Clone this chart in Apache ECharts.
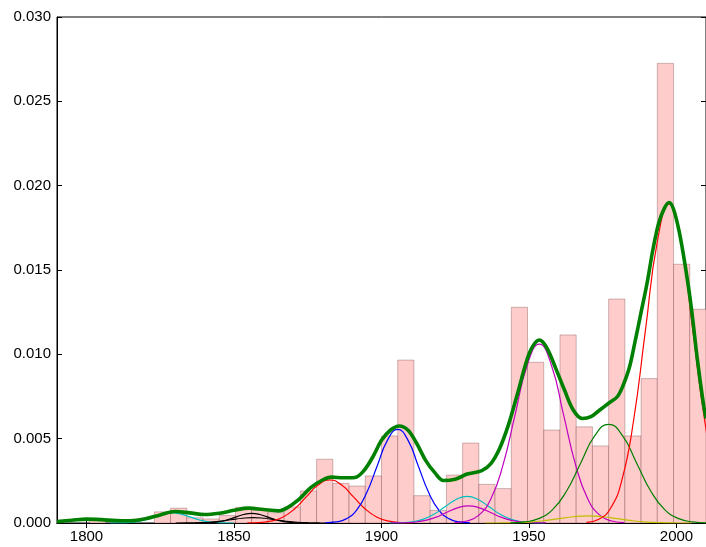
<!DOCTYPE html>
<html>
<head>
<meta charset="utf-8">
<script src="https://cdn.jsdelivr.net/npm/echarts@6/dist/echarts.min.js"></script>
<style>
html,body{margin:0;padding:0;background:#fff;}
#chart{width:706px;height:547px;}
</style>
</head>
<body>
<div id="chart"></div>
<script>
// Histogram bins (left edge, right edge) and density values
const binStarts = [1790,1795.5,1801,1806.5,1812,1817.5,1823,1828.5,1834,1839.5,1845,1850.5,1856,1861.5,1867,1872.5,1878,1883.5,1889,1894.5,1900,1905.5,1911,1916.5,1922,1927.5,1933,1938.5,1944,1949.5,1955,1960.5,1966,1971.5,1977,1982.5,1988,1993.5,1999,2004.5];
const binEnds = [1795.5,1801,1806.5,1812,1817.5,1823,1828.5,1834,1839.5,1845,1850.5,1856,1861.5,1867,1872.5,1878,1883.5,1889,1894.5,1900,1905.5,1911,1916.5,1922,1927.5,1933,1938.5,1944,1949.5,1955,1960.5,1966,1971.5,1977,1982.5,1988,1993.5,1999,2004.5,2010];
const density = [0,0,0.00017,0,0,0,0.00066,0.00088,0.00031,0.00024,0.00045,0.00093,0.00077,0.00061,0.00095,0.0019,0.00378,0.00235,0.00219,0.00279,0.00516,0.00966,0.00162,0.00075,0.00284,0.00474,0.00229,0.00204,0.01279,0.00953,0.00551,0.01115,0.0057,0.00457,0.01328,0.00516,0.00856,0.02725,0.01534,0.01267];

// Mixture components [year, density]
const compBlack1 = [[1836.75,0.0000013],[1839.5,0.0000063],[1842.25,0.000025],[1845,0.000077],[1847.75,0.000185],[1850.5,0.000346],[1853.25,0.000503],[1856,0.00057],[1858.75,0.000503],[1861.5,0.000346],[1864.25,0.000185],[1867,0.000077],[1869.75,0.000025],[1872.5,0.0000063],[1875.25,0.0000013]];
const compBlack2 = [[1830.25,0.0000007],[1834,0.0000036],[1837.75,0.000014],[1841.5,0.000043],[1845.25,0.000104],[1849,0.000194],[1852.75,0.000282],[1856.5,0.00032],[1860.25,0.000282],[1864,0.000194],[1867.75,0.000104],[1871.5,0.000043],[1875.25,0.000014],[1879,0.0000036],[1882.75,0.0000007]];
const compCyan1 = [[1808,0.0000013],[1811,0.0000067],[1814,0.000026],[1817,0.000081],[1820,0.000195],[1823,0.000364],[1826,0.00053],[1829,0.0006],[1832,0.00053],[1835,0.000364],[1838,0.000195],[1841,0.000081],[1844,0.000026],[1847,0.0000067],[1850,0.0000013]];
const compRed1 = [[1854.5,0.0000056],[1858.5,0.000028],[1862.5,0.000112],[1866.5,0.000345],[1870.5,0.000828],[1874.5,0.001547],[1878.5,0.00225],[1882.5,0.00255],[1886.5,0.00225],[1890.5,0.001547],[1894.5,0.000828],[1898.5,0.000345],[1902.5,0.000112],[1906.5,0.000028],[1910.5,0.0000056]];
const compBlue = [[1881,0.0000122],[1884.5,0.0000616],[1888,0.000244],[1891.5,0.000751],[1895,0.001802],[1898.5,0.003366],[1902,0.004898],[1905.5,0.00555],[1909,0.004898],[1912.5,0.003366],[1916,0.001802],[1919.5,0.000751],[1923,0.000244],[1926.5,0.0000616],[1930,0.0000122]];
const compCyan2 = [[1902.75,0.0000035],[1906.5,0.0000175],[1910.25,0.0000694],[1914,0.000214],[1917.75,0.000513],[1921.5,0.000958],[1925.25,0.001394],[1929,0.00158],[1932.75,0.001394],[1936.5,0.000958],[1940.25,0.000513],[1944,0.000214],[1947.75,0.0000694],[1951.5,0.0000175],[1955.25,0.0000035]];
const compMagenta1 = [[1903.25,0.0000022],[1907,0.0000113],[1910.75,0.0000448],[1914.5,0.000138],[1918.25,0.000331],[1922,0.000619],[1925.75,0.0009],[1929.5,0.00102],[1933.25,0.0009],[1937,0.000619],[1940.75,0.000331],[1944.5,0.000138],[1948.25,0.0000448],[1952,0.0000113],[1955.75,0.0000022]];
const compMagenta2 = [[1924.8,0.0000233],[1928.9,0.000118],[1933,0.000465],[1937.1,0.001434],[1941.2,0.003442],[1945.3,0.006429],[1949.4,0.009355],[1953.5,0.0106],[1957.6,0.009355],[1961.7,0.006429],[1965.8,0.003442],[1969.9,0.001434],[1974,0.000465],[1978.1,0.000118],[1982.2,0.0000233]];
const compYellow = [[1935,0.0000009],[1940,0.0000047],[1945,0.0000184],[1950,0.0000568],[1955,0.000136],[1960,0.000255],[1965,0.000371],[1970,0.00042],[1975,0.000371],[1980,0.000255],[1985,0.000136],[1990,0.0000568],[1995,0.0000184],[2000,0.0000047],[2005,0.0000009]];
const compGreen = [[1943.75,0.0000129],[1948.5,0.0000649],[1953.25,0.000257],[1958,0.000792],[1962.75,0.0019],[1967.5,0.003548],[1972.25,0.005163],[1977,0.00585],[1981.75,0.005163],[1986.5,0.003548],[1991.25,0.0019],[1996,0.000792],[2000.75,0.000257],[2005.5,0.0000649],[2010.25,0.0000129]];
const compRed2 = [[1969.5,0.0000416],[1973.5,0.00021],[1977.5,0.00083],[1981.5,0.002557],[1985.5,0.006137],[1989.5,0.011463],[1993.5,0.016679],[1997.5,0.0189],[2001.5,0.016679],[2005.5,0.011463],[2009.5,0.006137],[2013.5,0.002557],[2017.5,0.00083]];

// Total mixture density (thick green)
const totalYears = [1790,1795,1800,1805,1810,1815,1820,1825,1830,1835,1840,1845,1850,1855,1860,1865,1868,1872,1876,1880,1883,1887,1891,1894,1897,1900,1903,1906,1909,1912,1915,1918,1921,1925,1929,1934,1937,1940,1943,1946,1949,1951,1953.5,1956,1959,1962,1965,1968,1971,1974,1977,1980,1982,1984,1986,1988,1990,1992,1994,1996,1997.5,1999,2001,2003,2005,2007,2009,2010];
const totalValues = [0.00008,0.00016,0.00023,0.0002,0.00014,0.00013,0.00025,0.00048,0.00068,0.0006,0.0005,0.00058,0.00075,0.00088,0.0008,0.00072,0.0009,0.0014,0.0021,0.00255,0.00272,0.00268,0.0027,0.0031,0.0039,0.0049,0.0055,0.00575,0.0055,0.0047,0.0037,0.003,0.00252,0.0026,0.0029,0.0031,0.0035,0.0044,0.0058,0.0076,0.0095,0.0104,0.01085,0.0104,0.0092,0.0079,0.0067,0.0062,0.0063,0.0067,0.0071,0.0075,0.0082,0.0092,0.0108,0.0125,0.0142,0.0162,0.0178,0.0187,0.019,0.0186,0.0172,0.0152,0.0128,0.0098,0.0072,0.0062];

const xTicks = [1800,1850,1900,1950,2000];

const barData = [];
for (let i = 0; i < density.length; i++) {
  if (density[i] > 0) barData.push([binStarts[i], binEnds[i], density[i]]);
}
const totalData = totalYears.map((y, i) => [y, totalValues[i]]);

const FONT = 'Liberation Sans, Arial, sans-serif';
const chart = echarts.init(document.getElementById('chart'), null, {renderer: 'canvas'});

function comp(data, color) {
  return {
    type: 'line', data: data, smooth: true, showSymbol: false, symbol: 'none',
    lineStyle: {color: color, width: 1.2}, clip: true, animation: false, z: 3,
    emphasis: {disabled: true}
  };
}

const baseX = {
  type: 'value', min: 1790, max: 2010,
  splitLine: {show: false},
  axisLine: {show: true, lineStyle: {color: '#000', width: 1}},
  axisTick: {show: true, inside: true, length: 5, customValues: xTicks, lineStyle: {color: '#000'}},
};
const baseY = {
  type: 'value', min: 0, max: 0.03, interval: 0.005,
  splitLine: {show: false},
  axisLine: {show: true, lineStyle: {color: '#000', width: 1}},
  axisTick: {show: true, inside: true, length: 5, lineStyle: {color: '#000'}},
};

chart.setOption({
  animation: false,
  backgroundColor: '#fff',
  grid: {left: 57, top: 17, width: 654, height: 506, show: true, borderColor: '#000', borderWidth: 1, backgroundColor: 'transparent'},
  xAxis: [
    Object.assign({}, baseX, {position: 'bottom',
      axisLabel: {show: true, customValues: xTicks, color: '#000', fontFamily: FONT, fontSize: 15, margin: 6,
        formatter: v => String(v)}}),
    Object.assign({}, baseX, {position: 'top', axisLabel: {show: false}})
  ],
  yAxis: [
    Object.assign({}, baseY, {position: 'left',
      axisLabel: {show: true, color: '#000', fontFamily: FONT, fontSize: 15, margin: 6,
        formatter: v => v.toFixed(3)}}),
    Object.assign({}, baseY, {position: 'right', axisLabel: {show: false}})
  ],
  series: [
    {
      type: 'custom', data: barData, z: 1, animation: false,
      encode: {x: [0, 1], y: 2},
      renderItem: function (params, api) {
        const p0 = api.coord([api.value(0), 0]);
        const p1 = api.coord([api.value(1), api.value(2)]);
        return {
          type: 'rect',
          shape: {x: p0[0], y: p1[1], width: p1[0] - p0[0], height: p0[1] - p1[1]},
          style: {fill: '#ffcccc', stroke: 'rgba(60,0,0,0.25)', lineWidth: 1}
        };
      }
    },
    comp(compCyan1, '#00bfbf'),
    comp(compBlack2, '#000000'),
    comp(compBlack1, '#000000'),
    comp(compRed1, '#ff0000'),
    comp(compBlue, '#0000ff'),
    comp(compCyan2, '#00bfbf'),
    comp(compMagenta1, '#bf00bf'),
    comp(compMagenta2, '#bf00bf'),
    comp(compYellow, '#bfbf00'),
    comp(compGreen, '#008000'),
    comp(compRed2, '#ff0000'),
    {
      type: 'line', data: totalData, smooth: 0.35, showSymbol: false, symbol: 'none',
      lineStyle: {color: '#008000', width: 3.6}, clip: true, animation: false, z: 5,
      emphasis: {disabled: true}
    }
  ]
});
</script>
</body>
</html>
